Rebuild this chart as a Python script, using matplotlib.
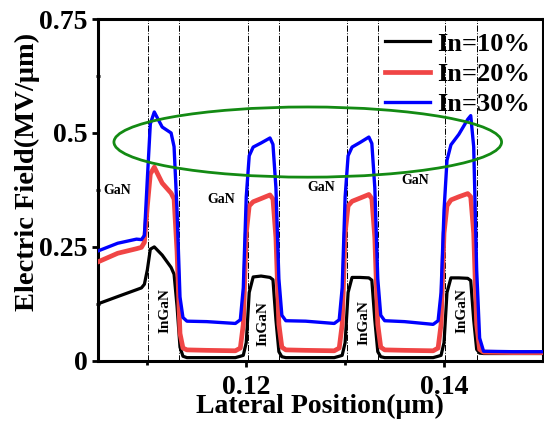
import numpy as np
import matplotlib.pyplot as plt
from matplotlib.patches import Ellipse
from matplotlib.ticker import FixedLocator, FixedFormatter

plt.rcParams['font.family'] = ['Liberation Serif', 'DejaVu Serif']
plt.rcParams['font.weight'] = 'bold'
plt.rcParams['mathtext.default'] = 'regular'

# lateral position (um), shared by all three curves
pos = [0.1050, 0.1070, 0.1089, 0.1094, 0.1097, 0.1100, 0.1103, 0.1107, 0.1115, 0.1124, 0.1127, 0.1130, 0.1133, 0.1136, 0.1140,
       0.1160, 0.1189, 0.1194, 0.1197, 0.1200, 0.1203, 0.1207, 0.1215, 0.1224, 0.1227, 0.1230, 0.1233, 0.1236, 0.1240,
       0.1260, 0.1289, 0.1294, 0.1297, 0.1300, 0.1303, 0.1307, 0.1315, 0.1324, 0.1327, 0.1330, 0.1333, 0.1336, 0.1340,
       0.1360, 0.1389, 0.1394, 0.1397, 0.1400, 0.1403, 0.1407, 0.1415, 0.1424, 0.1427, 0.1430, 0.1433, 0.1436, 0.1440,
       0.1470, 0.1500]

field_10 = [0.125, 0.141, 0.156, 0.160, 0.168, 0.200, 0.245, 0.250, 0.232, 0.205, 0.190, 0.120, 0.030, 0.010, 0.007,
            0.007, 0.007, 0.010, 0.012, 0.040, 0.150, 0.184, 0.186, 0.183, 0.178, 0.090, 0.020, 0.009, 0.007,
            0.007, 0.007, 0.010, 0.012, 0.040, 0.150, 0.183, 0.183, 0.182, 0.177, 0.090, 0.020, 0.009, 0.007,
            0.007, 0.007, 0.010, 0.012, 0.040, 0.150, 0.182, 0.182, 0.181, 0.176, 0.090, 0.025, 0.017, 0.016,
            0.016, 0.016]

field_20 = [0.217, 0.236, 0.246, 0.249, 0.260, 0.340, 0.410, 0.425, 0.390, 0.368, 0.355, 0.240, 0.060, 0.028, 0.024,
            0.023, 0.022, 0.028, 0.080, 0.280, 0.340, 0.349, 0.356, 0.364, 0.355, 0.270, 0.080, 0.030, 0.024,
            0.023, 0.022, 0.028, 0.080, 0.280, 0.340, 0.350, 0.357, 0.365, 0.356, 0.270, 0.080, 0.030, 0.024,
            0.023, 0.022, 0.028, 0.080, 0.280, 0.340, 0.353, 0.360, 0.367, 0.360, 0.280, 0.080, 0.025, 0.019,
            0.018, 0.018]

field_30 = [0.241, 0.258, 0.267, 0.266, 0.275, 0.400, 0.520, 0.546, 0.513, 0.500, 0.470, 0.330, 0.140, 0.095, 0.087,
            0.086, 0.082, 0.090, 0.160, 0.360, 0.450, 0.469, 0.478, 0.489, 0.475, 0.380, 0.180, 0.100, 0.088,
            0.087, 0.082, 0.090, 0.160, 0.360, 0.450, 0.469, 0.479, 0.491, 0.477, 0.380, 0.180, 0.100, 0.088,
            0.086, 0.080, 0.088, 0.150, 0.330, 0.440, 0.474, 0.497, 0.530, 0.538, 0.470, 0.200, 0.050, 0.021,
            0.020, 0.020]

interfaces = [0.1101, 0.1132, 0.1202, 0.1233, 0.1302, 0.1333, 0.1401, 0.1433]

gan_x = [0.1070, 0.1175, 0.1276, 0.1371]
gan_y = [0.373, 0.355, 0.380, 0.395]
ingan_x = [0.1118, 0.1217, 0.1319, 0.1418]
ingan_y = [0.110, 0.081, 0.085, 0.110]

labels = ['In=10%', 'In=20%', 'In=30%']

fig = plt.figure(figsize=(5.44, 4.23), dpi=100)
ax = fig.add_axes([0.180, 0.147, 0.818, 0.808])

for xi in interfaces:
    ax.axvline(xi, color='black', lw=0.7, ls='-.', zorder=1)

ax.plot(pos, field_10, color='black', lw=2.3, label=labels[0], zorder=3, solid_joinstyle='round')
ax.plot(pos, field_20, color='#f04545', lw=3.4, label=labels[1], zorder=4, solid_joinstyle='round')
ax.plot(pos, field_30, color='#0000ff', lw=2.4, label=labels[2], zorder=5, solid_joinstyle='round')

ax.add_patch(Ellipse((0.12622, 0.480), 0.0392, 0.154, fill=False,
                     edgecolor='#138a13', lw=2.0, zorder=6))

for gx, gy in zip(gan_x, gan_y):
    ax.text(gx, gy, 'GaN', fontsize=10, fontweight='bold', ha='center', va='center')
for ix, iy in zip(ingan_x, ingan_y):
    ax.text(ix, iy, 'InGaN', fontsize=11, fontweight='bold', ha='center', va='center', rotation=90)

ax.set_xlim(0.105, 0.150)
ax.set_ylim(0, 0.75)
ax.xaxis.set_major_locator(FixedLocator([0.12, 0.14]))
ax.xaxis.set_major_formatter(FixedFormatter(['0.12', '0.14']))
ax.xaxis.set_minor_locator(FixedLocator([0.11, 0.13]))
ax.yaxis.set_major_locator(FixedLocator([0, 0.25, 0.5, 0.75]))
ax.yaxis.set_major_formatter(FixedFormatter(['0', '0.25', '0.5', '0.75']))
ax.yaxis.set_minor_locator(FixedLocator([0.125, 0.375, 0.625]))
ax.tick_params(axis='both', which='major', direction='out', length=4, width=2, labelsize=20)
ax.tick_params(axis='x', which='major', pad=6)
ax.tick_params(axis='x', which='minor', direction='out', length=3, width=2)
ax.tick_params(axis='y', which='minor', direction='inout', length=3, width=2)
for s in ax.spines.values():
    s.set_linewidth(2.2)

ax.set_xlabel('Lateral Position(\u03bcm)', fontsize=20, fontweight='bold', labelpad=-4)
ax.set_ylabel('Electric Field(MV/\u03bcm)', fontsize=20.5, fontweight='bold')
ax.yaxis.set_label_coords(-0.13, 0.553)

ax.legend(loc='upper right', frameon=False, handlelength=1.7,
          handletextpad=0.25, labelspacing=0.25, borderaxespad=0.1,
          prop={'weight': 'bold', 'size': 19})

fig.savefig('out.png', dpi=100)
